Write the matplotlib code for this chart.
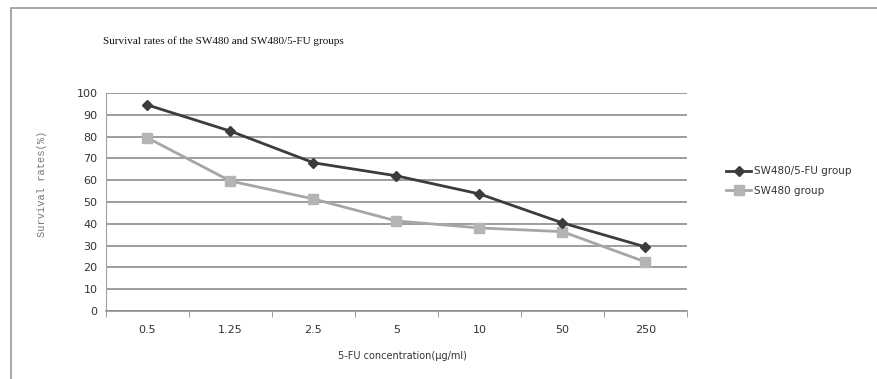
import numpy as np
import matplotlib.pyplot as plt
from matplotlib.patches import Rectangle

# values
concentrations = ['0.5', '1.25', '2.5', '5', '10', '50', '250']
resistant = [94.5, 82.5, 68, 62, 53.7, 40.4, 29.4]   # SW480/5-FU group
parental = [79.4, 59.6, 51.4, 41.3, 38.1, 36.4, 22.5]  # SW480 group
yticks = list(range(0, 101, 10))

W, H = 878, 379
fig = plt.figure(figsize=(W / 100, H / 100), dpi=100)
fig.patch.set_facecolor('white')

# outer chart frame
fig.patches.append(Rectangle((11 / W, -0.01), 1.0, (H - 8) / H + 0.01,
                             transform=fig.transFigure, fill=False,
                             edgecolor='#9a9a9a', linewidth=1.2))

ax = fig.add_axes([106 / W, (H - 311) / H, (687 - 106) / W, (311 - 93) / H])
x = np.arange(len(concentrations))

for y in yticks:
    ax.axhline(y, color='#8c8c8c', linewidth=1.2, zorder=1)

ax.plot(x, resistant, color='#3c3c3c', linewidth=2.0, marker='D',
        markersize=5.5, label='SW480/5-FU group', zorder=3)
ax.plot(x, parental, color='#a6a6a6', linewidth=2.0, marker='s',
        markersize=7, markerfacecolor='#b4b4b4', markeredgecolor='#b4b4b4',
        label='SW480 group', zorder=2)

ax.set_xlim(-0.5, len(concentrations) - 0.5)
ax.set_ylim(0, 100)
ax.set_yticks(yticks)
ax.set_xticks(x)
ax.set_xticklabels(concentrations)
ax.set_xticks(np.arange(-0.5, len(concentrations)), minor=True)
ax.tick_params(axis='x', which='major', length=0, pad=10,
               labelsize=8, labelcolor='#333333')
ax.tick_params(axis='x', which='minor', length=4, color='#8c8c8c', direction='out')
ax.tick_params(axis='y', length=0, pad=6, labelsize=8, labelcolor='#333333')

for side in ['top', 'right']:
    ax.spines[side].set_visible(False)
ax.spines['left'].set_color('#a0a0a0')
ax.spines['bottom'].set_color('#8c8c8c')
ax.spines['bottom'].set_linewidth(1.1)

fig.text(103 / W, 1 - 41 / H, 'Survival rates of the SW480 and SW480/5-FU groups',
         family='Liberation Serif', fontsize=8.0, color='#111111',
         va='center', ha='left')
fig.text(42 / W, 1 - 184 / H, 'Survival rates(%)', rotation=90,
         family='Liberation Mono', fontsize=7.5, color='#777777',
         va='center', ha='center')
fig.text(402 / W, 1 - 356 / H, '5-FU concentration(μg/ml)',
         fontsize=7, color='#333333', va='center', ha='center')

ax.legend(loc='center left', bbox_to_anchor=(717 / W, 1 - 181 / H),
          bbox_transform=fig.transFigure, frameon=False, fontsize=7.5,
          handlelength=2.4, handletextpad=0.3, labelspacing=0.9,
          labelcolor='#333333')

fig.savefig('out.png', dpi=100)
